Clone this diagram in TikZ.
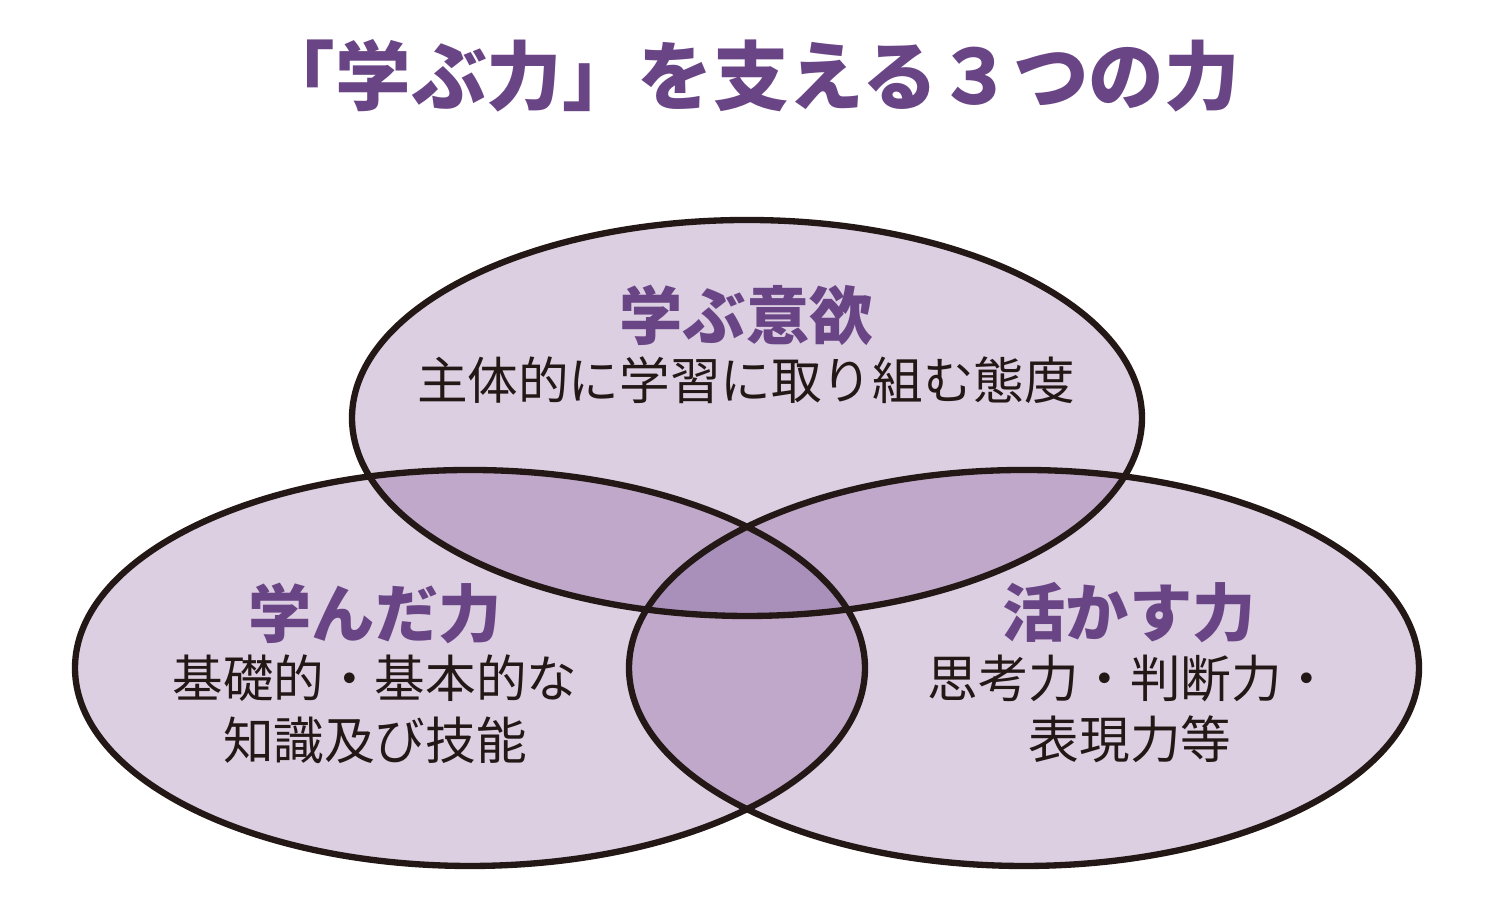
\documentclass[tikz,border=0pt]{standalone}
\usepackage{fontspec}
\setmainfont{Noto Sans CJK JP}
\usetikzlibrary{math}
\definecolor{mypurple}{RGB}{106,69,133}
\definecolor{lightlav}{RGB}{220,207,226}
\definecolor{midlav}{RGB}{192,168,202}
\definecolor{darklav}{RGB}{169,144,186}
\definecolor{inkcol}{RGB}{35,24,21}
\tikzset{
  headtext/.style={inner sep=0, text=mypurple, font=\bfseries\fontsize{18}{20}\selectfont},
  bodytext/.style={inner sep=0, text=inkcol, align=center, font=\fontsize{14.4}{17.6}\selectfont},
}

\begin{document}
\begin{tikzpicture}
\tikzmath{
\rx=3.95;
\ry=1.98;
}
\useasboundingbox (0,0) rectangle (15,9.22);
\coordinate (top) at (7.47,5.04);
\coordinate (left) at (4.70,2.54);
\coordinate (right) at (10.24,2.54);

% ellipses
\foreach \c in {top,left,right}{
  \fill[lightlav] (\c) ellipse [x radius=\rx, y radius=\ry];
}
%overlaps
\begin{scope}
  \clip (top) ellipse [x radius=\rx, y radius=\ry];
  \fill[midlav] (left) ellipse [x radius=\rx, y radius=\ry];
  \fill[midlav] (right) ellipse [x radius=\rx, y radius=\ry];
\end{scope}
\begin{scope}
  \clip (left) ellipse [x radius=\rx, y radius=\ry];
  \fill[midlav] (right) ellipse [x radius=\rx, y radius=\ry];
  \clip (right) ellipse [x radius=\rx, y radius=\ry];
  \fill[darklav] (top) ellipse [x radius=\rx, y radius=\ry];
\end{scope}
\foreach \c in {top,left,right}{
  \draw[inkcol, line width=1.8pt] (\c) ellipse [x radius=\rx, y radius=\ry];
}

\node[inner sep=0, text=mypurple, font=\bfseries\fontsize{21.5}{24}\selectfont] (title) at (7.50,8.46) {「学ぶ力」を支える３つの力};

\node[headtext] (toph) at (7.46,6.07) {学ぶ意欲};
\node[bodytext] (topb) at (7.46,5.42) {主体的に学習に取り組む態度};

\node[headtext] (lefth) at (3.75,3.09) {学んだ力};
\node[bodytext] (leftb) at (3.75,2.13) {基礎的・基本的な\\知識及び技能};

\node[headtext] (righth) at (11.29,3.09) {活かす力};
\node[bodytext] (rightb) at (11.30,2.13) {思考力・判断力・\\表現力等};
\end{tikzpicture}
\end{document}
